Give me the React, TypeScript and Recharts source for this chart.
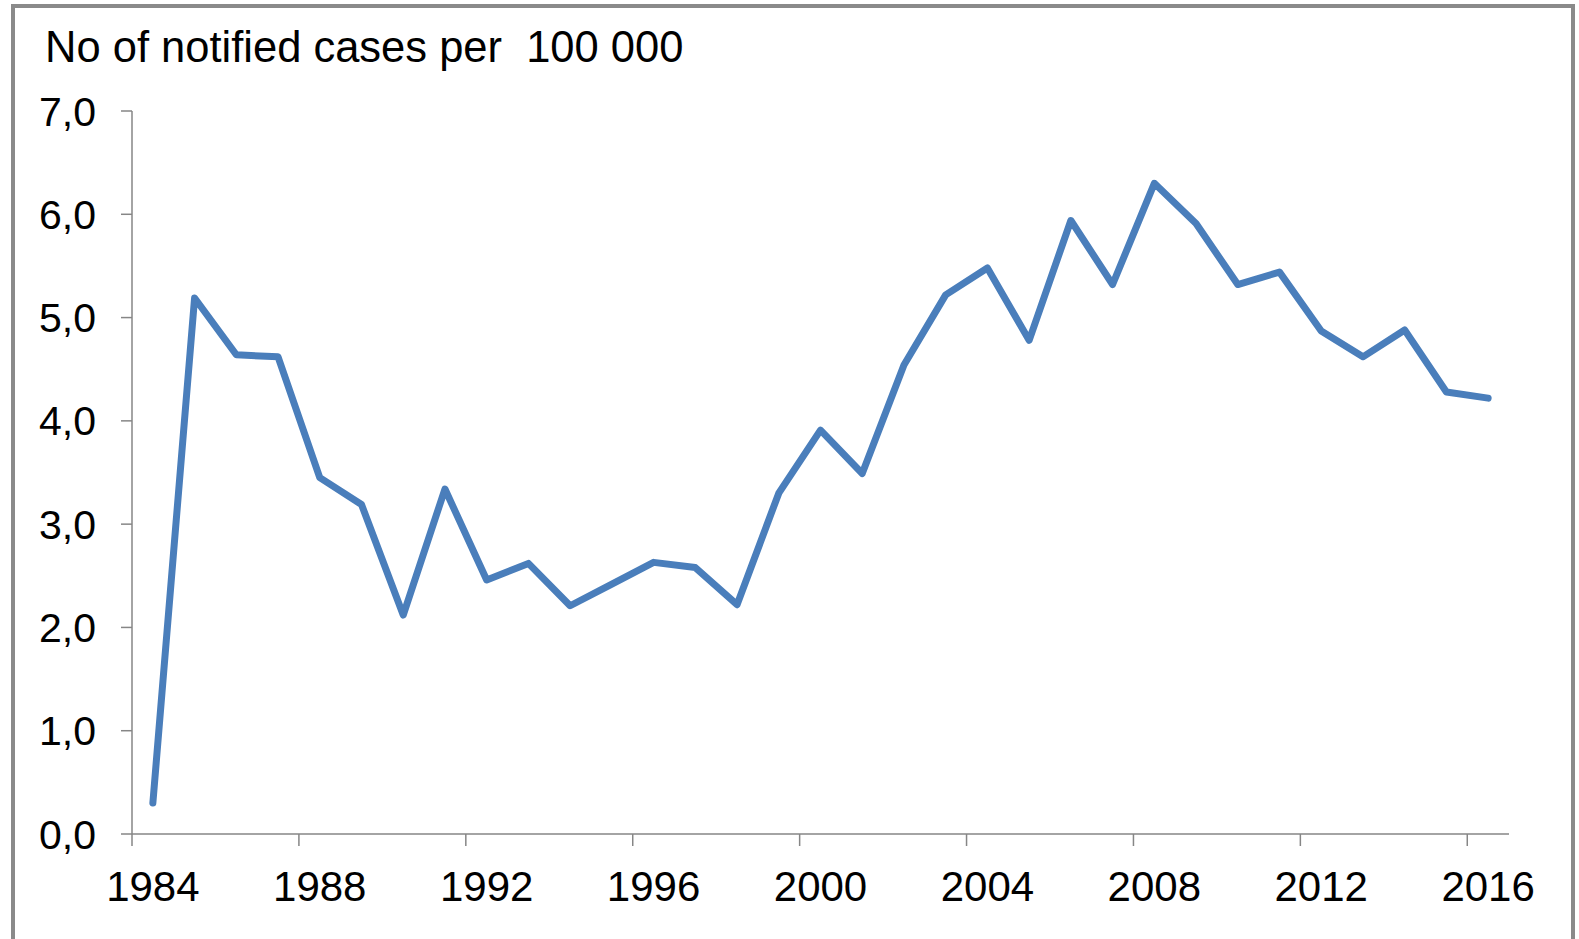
import React from 'react'
import { LineChart, Line, XAxis, YAxis } from 'recharts'

const YEARS = [
  1984, 1985, 1986, 1987, 1988, 1989, 1990, 1991, 1992, 1993, 1994,
  1995, 1996, 1997, 1998, 1999, 2000, 2001, 2002, 2003, 2004, 2005,
  2006, 2007, 2008, 2009, 2010, 2011, 2012, 2013, 2014, 2015, 2016,
]

const RATES = [
  0.30, 5.19, 4.64, 4.62, 3.45, 3.19, 2.12, 3.34, 2.46, 2.62, 2.21,
  2.42, 2.63, 2.58, 2.22, 3.30, 3.91, 3.49, 4.54, 5.22, 5.48, 4.78,
  5.94, 5.32, 6.30, 5.91, 5.32, 5.44, 4.87, 4.62, 4.88, 4.28, 4.22,
]

const X_TICKS = [1984, 1988, 1992, 1996, 2000, 2004, 2008, 2012, 2016]
const Y_TICKS = [0, 1, 2, 3, 4, 5, 6, 7]

const TITLE = 'No of notified cases per\u00a0\u00a0100\u00a0000'

// plot box, in page pixels
const W = 1579
const H = 939
const PLOT_L = 132
const PLOT_R = 1509
const PLOT_T = 111
const PLOT_B = 834
const HALF = (PLOT_R - PLOT_L) / YEARS.length / 2

const FONT = '"Liberation Sans", Arial, sans-serif'
const AXIS = '#868686'

// each year sits in the middle of its own slot, like Excel's category axis
const data = YEARS.map((y, i) => ({ x: y + 0.5, rate: RATES[i] }))

function YearTick({ x, y, payload }: any) {
  return (
    <text x={x + HALF} y={y} dy="0.71em" textAnchor="middle"
      fontSize={42} fontFamily={FONT} fill="#000">
      {payload.value}
    </text>
  )
}

export default function App() {
  return (
    <div style={{ position: 'absolute', left: 0, top: 0, width: W, height: H, background: '#fff', overflow: 'hidden' }}>
      <div style={{
        position: 'absolute', left: 11, top: 4, width: 1564, height: 960,
        border: '4px solid #8a8a8a', boxSizing: 'border-box',
      }} />
      <div style={{
        position: 'absolute', left: 45, top: 26, fontFamily: FONT, fontSize: 43.5,
        lineHeight: '43.5px', color: '#000', whiteSpace: 'pre',
      }}>
        {TITLE}
      </div>
      <div style={{ position: 'absolute', left: 0, top: 0 }}>
        <LineChart width={W} height={H} data={data}
          margin={{ top: PLOT_T, right: W - PLOT_R, bottom: H - PLOT_B - 70, left: PLOT_L - 120 }}>
          <XAxis dataKey="x" type="number" domain={[1984, 2017]} ticks={X_TICKS}
            allowDataOverflow height={70}
            axisLine={{ stroke: AXIS, strokeWidth: 1.5 }}
            tickLine={{ stroke: AXIS, strokeWidth: 1.5 }}
            tickSize={12} tickMargin={25} tick={<YearTick />} />
          <YAxis type="number" domain={[0, 7]} ticks={Y_TICKS} width={120}
            axisLine={{ stroke: AXIS, strokeWidth: 1.5 }}
            tickLine={{ stroke: AXIS, strokeWidth: 1.5 }}
            tickSize={11} tickMargin={25}
            tickFormatter={(v: number) => v.toFixed(1).replace('.', ',')}
            tick={{ fontSize: 41, fontFamily: FONT, fill: '#000' }} />
          <Line dataKey="rate" type="linear" stroke="#4a7ebb" strokeWidth={7}
            strokeLinejoin="round" strokeLinecap="round" dot={false}
            isAnimationActive={false} />
        </LineChart>
      </div>
    </div>
  )
}
